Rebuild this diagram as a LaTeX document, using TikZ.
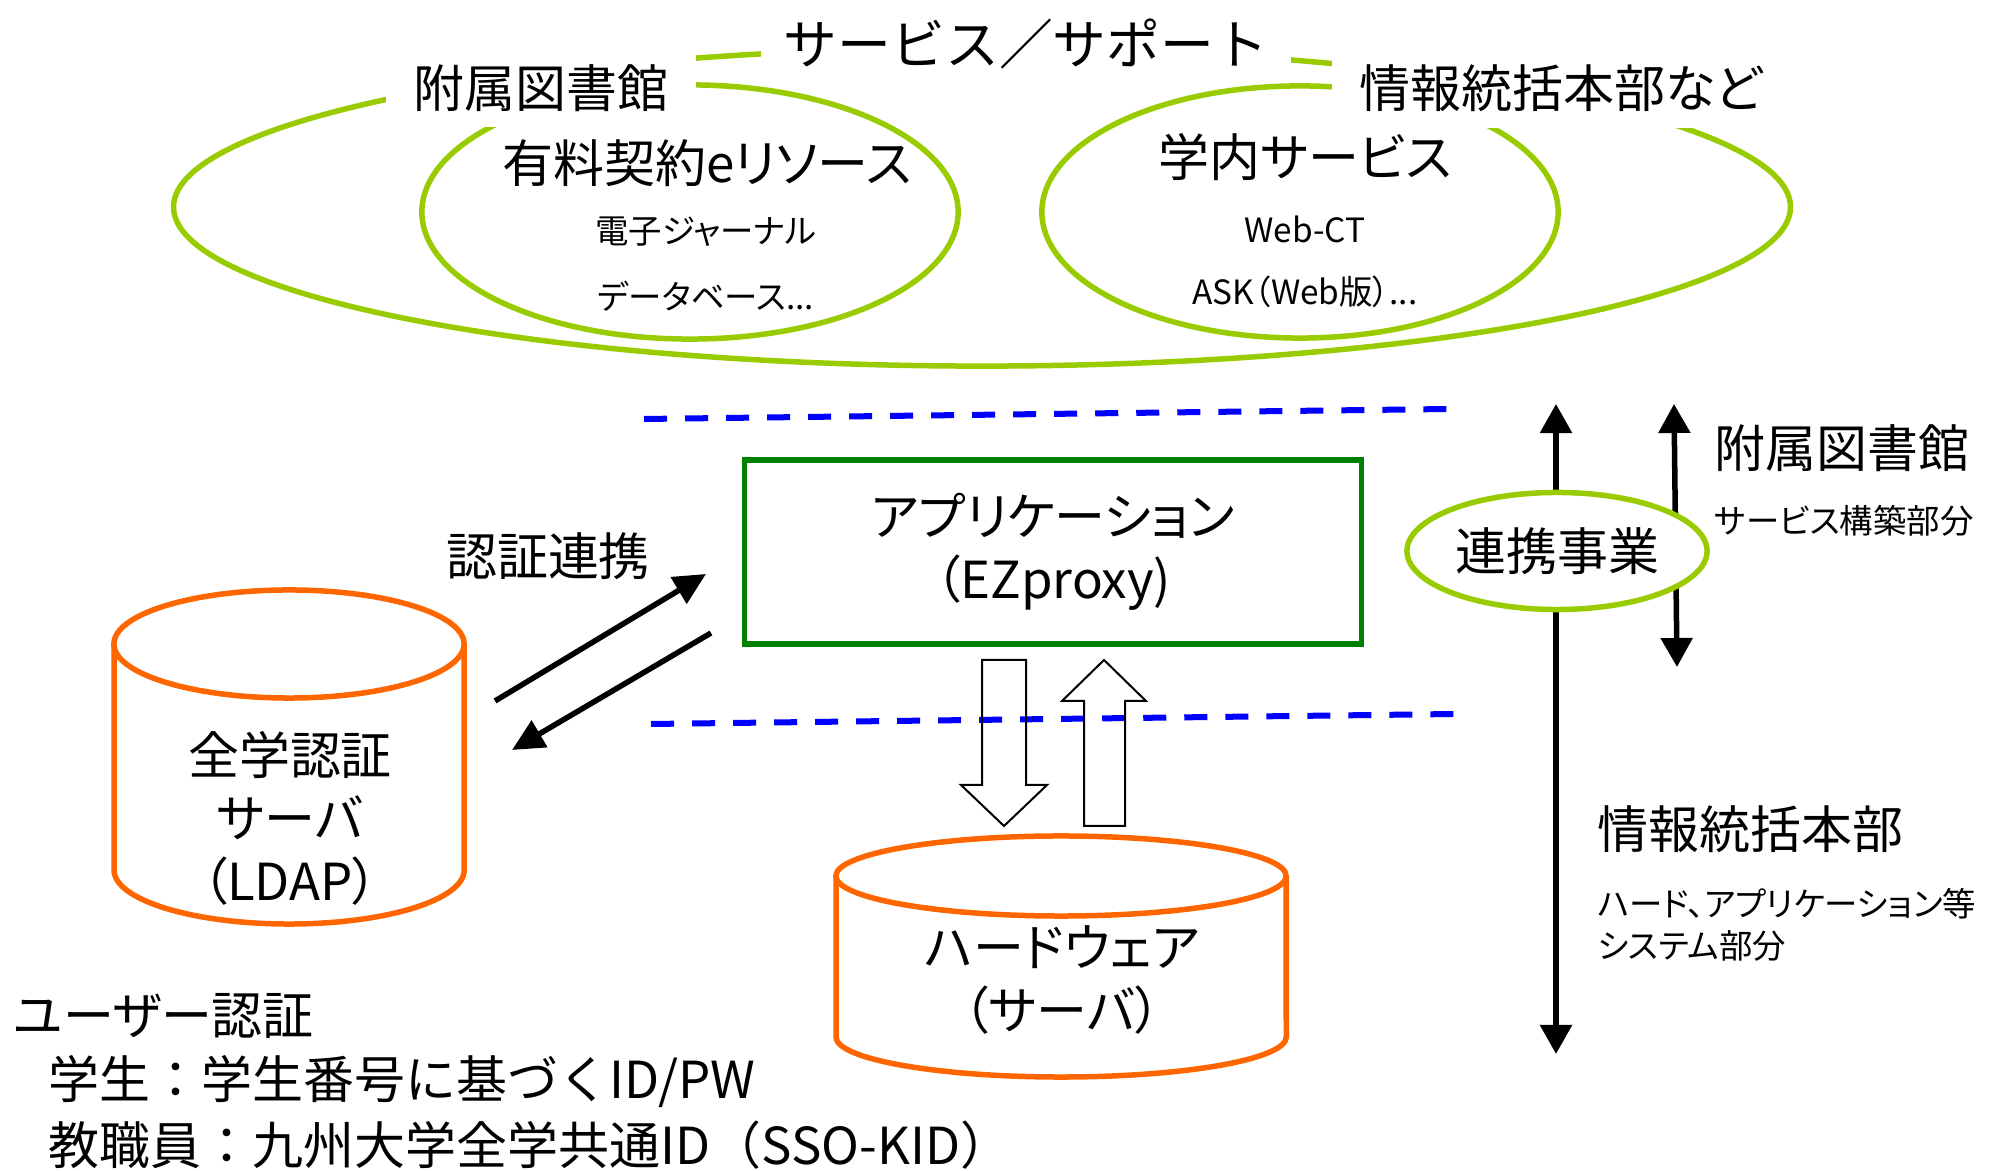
\documentclass[tikz,border=0pt]{standalone}
\usepackage{fontspec}
\setmainfont{Noto Sans CJK JP}[RawFeature=+palt]
\newfontfamily\plainjp{Noto Sans CJK JP}
\usetikzlibrary{shapes.geometric, arrows.meta}
\definecolor{svcgreen}{RGB}{153,204,0}
\definecolor{appgreen}{RGB}{0,128,0}
\definecolor{dborange}{RGB}{255,102,0}
\begin{document}
\begin{tikzpicture}[x=0.01cm, y=-0.01cm,
        svc/.style={ellipse, draw=svcgreen, line width=0.055cm, inner sep=0pt},
        tag/.style={fill=white, inner sep=0pt},
        big/.style={font=\fontsize{14.5}{17.9}\selectfont},
        sub/.style={font=\fontsize{9.5}{11.9}\selectfont},
        note/.style={anchor=west, inner sep=0pt},
        db/.style={draw=dborange, line width=0.055cm},
        sep/.style={draw=blue, line width=0.06cm, dash pattern=on 0.23cm off 0.18cm},
        link/.style={line width=0.055cm, -{Triangle[width=0.3cm, length=0.32cm]}},
        bothway/.style={line width=0.055cm, {Triangle[width=0.31cm, length=0.29cm]}-{Triangle[width=0.31cm, length=0.29cm]}},
        hollow/.style={draw, line width=0.02cm}]
        \useasboundingbox (0, 0) rectangle (1991, 1171);

        \node[svc, minimum width=16.16cm, minimum height=3.18cm] (ALL) at (982, 207) {};
        \node[svc, minimum width=5.36cm, minimum height=2.54cm] (ERES) at (690, 212) {};
        \node[svc, minimum width=5.16cm, minimum height=2.52cm] (CAMPUS) at (1300, 212) {};

        \node[tag, big, minimum width=3.09cm, minimum height=0.77cm] (LIB) at (541, 88) {附属図書館};
        \node[tag, font=\plainjp\fontsize{15.3}{17.9}\selectfont, minimum width=5.29cm, minimum height=0.6cm] (SVC) at (1026, 44) {サービス／サポート};
        \node[tag, big, minimum width=4.58cm, minimum height=0.8cm] (ITC) at (1561, 88) {情報統括本部など};

        \node[big] (ERESTITLE) at (707, 163) {有料契約eリソース};
        \node[sub] (EJ) at (706, 232) {電子ジャーナル};
        \node[sub] (DBASE) at (706, 296) {データベース...};
        \node[big] (CAMPUSTITLE) at (1305, 157) {学内サービス};
        \node[sub] (WEBCT) at (1305, 229) {Web-CT};
        \node[sub] (ASK) at (1305, 292) {ASK（Web版）...};

        \draw[sep] (644, 419) -- (1448, 409);
        \draw[sep] (651, 724) -- (1454, 714);

        \node[draw=appgreen, line width=0.055cm, big, align=center, minimum width=6.17cm, minimum height=1.84cm] (APP) at (1053, 552) {アプリケーション\\（EZproxy)};

        \draw[db] (114, 644) -- (114, 870) arc[start angle=180, end angle=360, x radius=1.75cm, y radius=0.54cm] -- (464, 644);
        \draw[db] (289, 644) ellipse [x radius=1.75cm, y radius=0.54cm];
        \node[big, align=center] (LDAP) at (290, 818) {全学認証\\サーバ\\（LDAP）};

        \draw[db] (836, 876) -- (836, 1037) arc[start angle=180, end angle=360, x radius=2.25cm, y radius=0.4cm] -- (1286, 876);
        \draw[db] (1061, 876) ellipse [x radius=2.25cm, y radius=0.4cm];
        \node[big, align=center] (HW) at (1062, 980) {ハードウェア\\（サーバ）};

        \draw[hollow] (982, 660) -- (1026, 660) -- (1026, 785) -- (1047, 785) -- (1004, 826) -- (961, 785) -- (982, 785) -- cycle;
        \draw[hollow] (1084, 826) -- (1125, 826) -- (1125, 701) -- (1146, 701) -- (1104, 660) -- (1062, 701) -- (1084, 701) -- cycle;

        \node[big] (AUTHLINK) at (548, 556) {認証連携};
        \coordinate (L1) at (495, 701);
        \coordinate (L2) at (706, 574);
        \coordinate (L3) at (711, 633);
        \coordinate (L4) at (512, 750);
        \draw[link] (L1) -- (L2);
        \draw[link] (L3) -- (L4);

        \coordinate (T1) at (1556, 404);
        \coordinate (B1) at (1556, 1054);
        \coordinate (T2) at (1674, 404);
        \coordinate (B2) at (1677, 667);
        \draw[bothway] (T1) -- (B1);
        \draw[bothway] (T2) -- (B2);
        \node[svc, fill=white, big, minimum width=3cm, minimum height=1.17cm] (COOP) at (1557, 551) {連携事業};

        \node[note, big] (LIBR) at (1714, 448) {附属図書館};
        \node[note, sub] (LIBRSUB) at (1714, 521) {サービス構築部分};
        \node[note, big] (ITCR) at (1597, 829) {情報統括本部};
        \node[note, sub, align=left] (ITCRSUB) at (1597, 925) {ハード、アプリケーション等\\システム部分};

        \node[note, big] (AUTH) at (13, 1016) {ユーザー認証};
        \node[note, font=\plainjp\fontsize{14.5}{17.9}\selectfont] (STU) at (48, 1082) {学生：学生番号に基づくID/PW};
        \node[note, font=\plainjp\fontsize{14.5}{17.9}\selectfont] (STAFF) at (48, 1145) {教職員：九州大学全学共通ID（SSO-KID）};
    \end{tikzpicture}
\end{document}
